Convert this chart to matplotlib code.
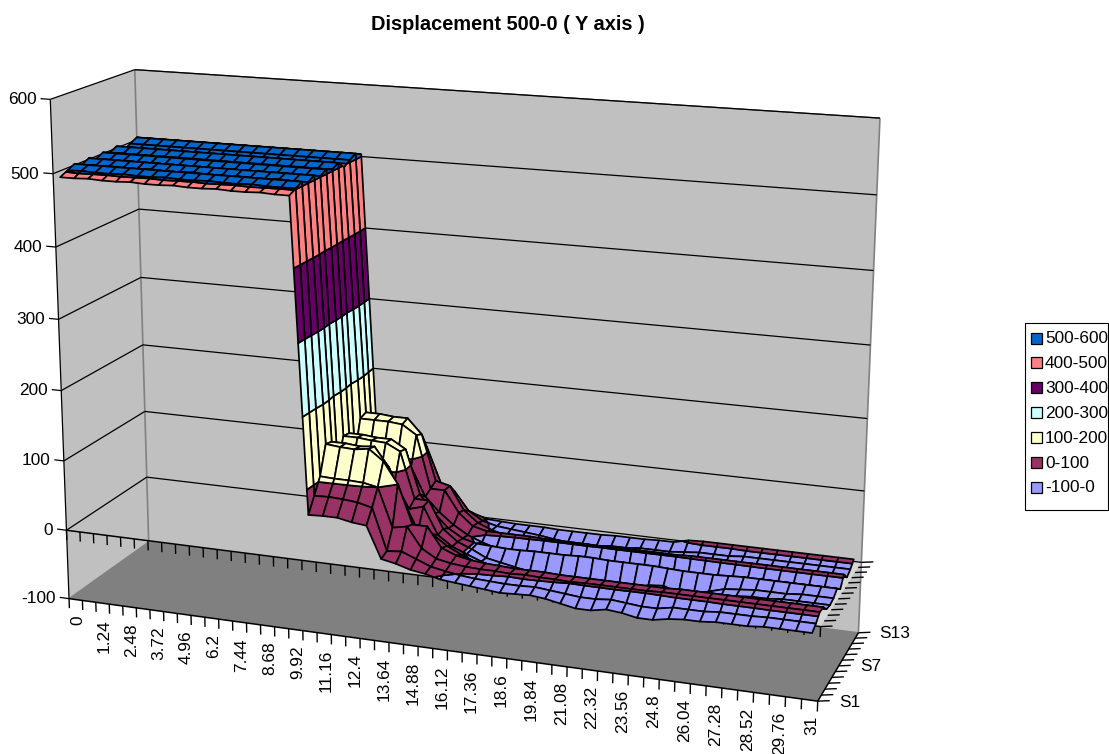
import numpy as np
import matplotlib
matplotlib.use("Agg")
import matplotlib.pyplot as plt
from matplotlib.collections import PolyCollection
from matplotlib.patches import Rectangle

plt.rcParams['font.family'] = ['Liberation Sans', 'DejaVu Sans']

TITLE = "Displacement 500-0 ( Y axis )"
X_LABELS = ["0","1.24","2.48","3.72","4.96","6.2","7.44","8.68","9.92","11.16","12.4","13.64","14.88",
            "16.12","17.36","18.6","19.84","21.08","22.32","23.56","24.8","26.04","27.28","28.52","29.76","31"]
Z_TICKS = [-100,0,100,200,300,400,500,600]
SERIES_LABELS = {0:"S1",6:"S7",12:"S13"}
BANDS = ["-100-0","0-100","100-200","200-300","300-400","400-500","500-600"]
BAND_COLORS = ["#9999FF","#993366","#FFFFCC","#CCFFFF","#660066","#FF8080","#0066CC"]

S1  = [496,496,497,496,496,497,496,496,497,496,496,497,496,496,497,496,496, 65,66,66,62,60,16,12,6,3,-2,-4,-6,-8,-10,-9,-8,-10,-14,-18,-18,-14,-16,-20,-20,-16,-14,-14,-12,-12,-12,-10,-10,-10,-10]
S2  = [501,502,501,501,502,501,501,502,501,501,502,501,501,502,501,501,501, 85,86,85,83,78,20,22,14,6,2,-1,-3,-4,-5,-5,-4,-6,-8,-10,-10,-8,-10,-12,-12,-8,-8,-8,-6,-6,-6,-5,-5,-5,-5]
S3  = [506,506,506,506,506,506,506,506,506,506,506,506,506,506,506,506,506, 106,105,105,104,100,46,50,22,10,6,4,3,3,2,3,2,2,1,2,2,2,2,2,3,3,3,3,3,3,3,3,3,3,3]
S4  = [501,501,502,501,501,502,501,501,502,501,501,502,501,501,502,501,501, 145,143,142,145,130,100,46,46,18,10,6,4,3,2,2,2,1,1,1,1,1,1,1,1,2,2,2,2,2,2,2,2,2,2]
S5  = [506,506,506,506,506,506,506,506,506,506,506,506,506,506,506,506,506, 142,142,140,142,115,70,30,28,14,4,-4,-8,-14,-18,-22,-26,-28,-32,-34,-30,-24,-20,-18,-24,-24,-16,-14,-12,-10,-10,-8,-8,-8,-8]
S6  = [501,501,501,501,501,501,501,501,501,501,501,501,501,501,501,501,501, 100,100,98,96,88,52,58,20,6,-2,-10,-16,-22,-28,-32,-36,-40,-46,-48,-42,-32,-26,-24,-34,-34,-24,-18,-14,-12,-12,-10,-10,-10,-10]
S7  = [506,506,506,506,506,506,506,506,506,506,506,506,506,506,506,506,506, 138,138,136,135,125,60,60,22,6,-2,-12,-16,-20,-24,-26,-28,-30,-36,-38,-34,-28,-22,-20,-28,-26,-20,-14,-12,-10,-10,-10,-8,-8,-8]
S8  = [502,502,502,502,502,502,502,502,502,502,502,502,502,502,502,502,502, 136,136,134,134,122,60,35,16,4,-1,-2,-3,-3,-2,-2,-2,-1,-1,-2,-2,-2,-2,-3,-4,-4,-4,-3,-2,-2,-2,-2,-2,-2,-2]
S9  = [507,507,507,507,507,507,507,507,507,507,507,507,507,507,507,507,507, 100,100,98,98,90,50,30,14,2,-6,-12,-18,-24,-28,-32,-30,-22,-20,-24,-28,-30,-30,-32,-28,-20,-16,-14,-12,-10,-10,-10,-10,-10,-10]
S10 = [497,497,497,497,497,497,497,497,497,497,497,497,497,497,497,497,497, 145,145,145,143,130,55,55,25,8,3,3,3,3,2,2,2,2,1,2,2,2,2,2,3,3,3,3,3,3,3,3,3,3,3]
S11 = [503,503,503,503,503,503,503,503,503,503,503,503,503,503,503,503,503, 148,148,146,146,125,60,55,22,6,-2,-8,-12,-16,-20,-22,-24,-22,-18,-18,-18,-16,-16,-16,-14,-12,-10,-8,-8,-8,-8,-8,-8,-8,-8]
S12 = [508,508,508,508,508,508,508,508,508,508,508,508,508,508,508,508,508, 125,125,125,120,100,50,40,14,2,-3,-5,-7,-9,-12,-14,-14,-14,-12,-12,-10,-10,-10,-8,-6,-6,-6,-4,-4,-4,-4,-4,-4,-4,-4]
S13 = [503,503,503,503,503,503,503,503,503,503,503,503,503,503,503,503,503, 100,100,95,25,28,25,12,4,-2,-3,-4,-4,-4,-5,-5,-5,-5,-4,-4,-4,-3,-3,2,3,3,3,3,3,3,3,3,3,3,3]
SERIES = [S1,S2,S3,S4,S5,S6,S7,S8,S9,S10,S11,S12,S13]

NCOL, NROW = 51, 12
ANCHORS = [((0,0,-100),(69,599)),((0,12,-100),(148,542)),((51,12,-100),(859,632)),((51,0,-100),(818,701)),
           ((0,0,600),(50,99)),((0,12,600),(135,70)),((51,12,600),(880,118)),((0,0,0),(67,530)),((0,12,0),(147,477)),
           ((51,0,0),(820,627)),((51,12,0),(861,563))]

def fit():
    A=[]
    for (x,y,z),(u,v) in ANCHORS:
        p=[x/51,y/12,(z+100)/700,1]
        A.append(p+[0,0,0,0]+[-u*c for c in p])
        A.append([0,0,0,0]+p+[-v*c for c in p])
    return np.linalg.svd(np.array(A,float))[2][-1].reshape(3,4)
P=fit()
def proj(x,y,z):
    q=P@np.array([x/51,y/12,(z+100)/700,1.0])
    return (q[0]/q[2],q[1]/q[2])
cam=np.linalg.svd(P)[2][-1]; cam=cam/cam[3]
cam_x=cam[0]*51

fig=plt.figure(figsize=(11.09,7.54),dpi=100,facecolor='white')
ax=fig.add_axes([0,0,1,1]); ax.set_xlim(0,1109); ax.set_ylim(754,0); ax.axis('off')

def poly(pts,fc,z):
    ax.add_patch(plt.Polygon([proj(*p) for p in pts],closed=True,fc=fc,ec='none',zorder=z))
def line(a,b,c='k',lw=0.9,z=2):
    pa,pb=proj(*a),proj(*b)
    ax.plot([pa[0],pb[0]],[pa[1],pb[1]],color=c,lw=lw,zorder=z,solid_capstyle='butt')

poly([(0,0,-100),(0,12,-100),(0,12,600),(0,0,600)],'#C0C0C0',1)
poly([(0,12,-100),(51,12,-100),(51,12,600),(0,12,600)],'#C0C0C0',1)
poly([(0,0,-100),(0,12,-100),(51,12,-100),(51,0,-100)],'#808080',1)
poly([(50.5,0,0),(51,0,0),(51,12,0),(50.5,12,0)],'#D6D6D6',2)

line((0,12,-100),(0,12,600),'#808080',1.2)
line((51,12,-100),(51,12,600),'#808080',1.2)
line((0,0,-100),(0,12,-100),'#808080',1.0)
line((0,12,-100),(51,12,-100),'#808080',1.0)
line((0,12,600),(51,12,600),'#555555',0.9)
for z in Z_TICKS[1:]:
    line((0,0,z),(0,12,z)); line((0,12,z),(51,12,z))
line((0,0,-100),(0,0,600))
line((0,0,-100),(51,0,-100),lw=1.1)
line((51,0,-100),(51,12,-100),lw=1.1)
line((0,0,0),(51,0,0),lw=1.1)

for z in Z_TICKS:
    line((0,0,z),(-0.7,0,z))
    u,v=proj(-1.0,0,z)
    ax.text(u,v+1.5,str(z),ha='right',va='center',fontsize=12.4,color='k',zorder=6)
for i in range(NCOL+1):
    for base in (-100,0):
        line((i,0,base),(i,0,base-14),lw=1.0)
for j in range(NROW+1):
    for base in (-100,0):
        u,v=proj(51,j,base)
        ax.plot([u,u+12],[v,v-0.5],color='k',lw=1.0,zorder=2,solid_capstyle='butt')
for k,lab in enumerate(X_LABELS):
    u,v=proj(2*k+0.5,0,-100)
    ax.text(u+2,v+16,lab,rotation=90,ha='center',va='top',fontsize=12.4,color='k',zorder=6)
for j,lab in SERIES_LABELS.items():
    u,v=proj(51,j,-100)
    ax.text(u+21,v+1,lab,ha='left',va='center',fontsize=12.4,color='k',zorder=6)

def clip(pts,lev,keep_above):
    out=[]
    n=len(pts)
    for i in range(n):
        a,b=pts[i],pts[(i+1)%n]
        ia=(a[2]>=lev) if keep_above else (a[2]<=lev)
        ib=(b[2]>=lev) if keep_above else (b[2]<=lev)
        if ia: out.append(a)
        if ia!=ib:
            t=(lev-a[2])/(b[2]-a[2])
            out.append(tuple(a[m]+t*(b[m]-a[m]) for m in range(3)))
    return out

verts,faces=[],[]
data=np.array(SERIES,float)
cols=sorted(range(NCOL-1),key=lambda c:-abs(c+1-cam_x))
for r in range(NROW-1,-1,-1):
    for c in cols:
        q=[(c+0.5,r,data[r,c]),(c+1.5,r,data[r,c+1]),(c+1.5,r+1,data[r+1,c+1]),(c+0.5,r+1,data[r+1,c])]
        for b in range(7):
            piece=clip(q,-100+100*b,True)
            if piece: piece=clip(piece,100*b,False)
            if len(piece)>=3:
                verts.append([proj(*p) for p in piece]); faces.append(BAND_COLORS[b])
ax.add_collection(PolyCollection(verts,facecolors=faces,edgecolors='k',linewidths=1.25,zorder=4,joinstyle='round'))

ax.text(508,24.5,TITLE,ha='center',va='center',fontsize=14.4,fontweight='bold',color='k',zorder=6)
ax.add_patch(Rectangle((1025,323),83,187,fc='white',ec='k',lw=0.8,zorder=5))
for i,(lab,col) in enumerate(zip(BANDS[::-1],BAND_COLORS[::-1])):
    y=338+i*24.9
    ax.add_patch(Rectangle((1031,y-5.5),11,11,fc=col,ec='k',lw=0.9,zorder=6))
    ax.text(1045,y+0.5,lab,ha='left',va='center',fontsize=12.4,color='k',zorder=6)
fig.savefig('out.png',dpi=100,facecolor='white')
